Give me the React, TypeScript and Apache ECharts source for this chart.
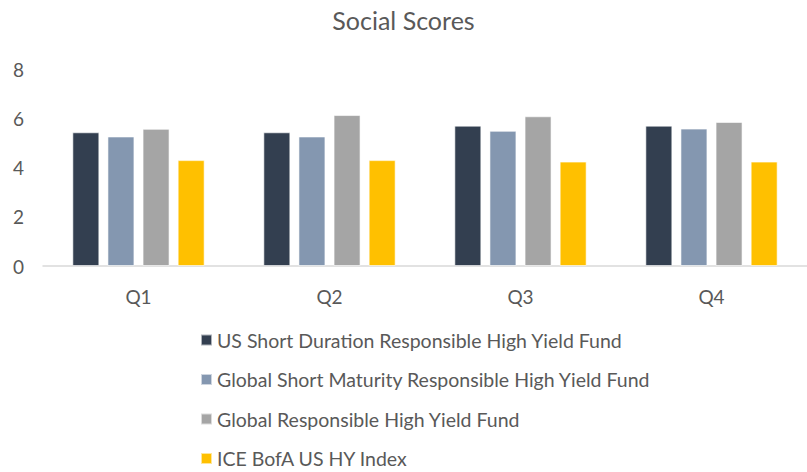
import React, { useEffect, useRef } from "react";
import * as echarts from "echarts";

const categories = ["Q1", "Q2", "Q3", "Q4"];
const seriesNames = [
  "US Short Duration Responsible High Yield Fund",
  "Global Short Maturity Responsible High Yield Fund",
  "Global Responsible High Yield Fund",
  "ICE BofA US HY Index",
];
const usShortDuration = [5.43, 5.43, 5.7, 5.7];
const globalShortMaturity = [5.26, 5.26, 5.49, 5.58];
const globalResponsible = [5.57, 6.13, 6.08, 5.85];
const iceBofa = [4.3, 4.3, 4.24, 4.24];
const yTicks = { min: 0, max: 8, interval: 2 };

const colors = ["#333F50", "#8497B0", "#A5A5A5", "#FFC000"];
const FONT = "Lato, 'Open Sans', sans-serif";

export default function App() {
  const ref = useRef<HTMLDivElement>(null);
  useEffect(() => {
    if (!ref.current) return;
    const chart = echarts.init(ref.current, undefined, { renderer: "svg" });
    const values = [usShortDuration, globalShortMaturity, globalResponsible, iceBofa];
    chart.setOption({
      animation: false,
      backgroundColor: "#FFFFFF",
      textStyle: { fontFamily: FONT },
      title: {
        text: "Social Scores",
        left: "center",
        top: 2,
        textStyle: { fontFamily: FONT, fontSize: 25, fontWeight: "normal", color: "#595959" },
      },
      legend: {
        orient: "vertical",
        left: 200,
        top: 330,
        padding: 0,
        height: 142,
        itemWidth: 11,
        itemHeight: 11,
        itemGap: 19.5,
        icon: "rect",
        data: seriesNames,
        textStyle: { fontFamily: FONT, fontSize: 19.5, color: "#595959", lineHeight: 20 },
      },
      grid: { left: 43, right: -12, top: 69, bottom: 206, containLabel: false },
      xAxis: {
        type: "category",
        data: categories,
        axisLine: { lineStyle: { color: "#D9D9D9", width: 1.5 } },
        axisTick: { show: false },
        axisLabel: { fontFamily: FONT, fontSize: 19, color: "#595959", margin: 21 },
      },
      yAxis: {
        type: "value",
        min: yTicks.min,
        max: yTicks.max,
        interval: yTicks.interval,
        axisLine: { show: false },
        axisTick: { show: false },
        splitLine: { show: false },
        axisLabel: { fontFamily: FONT, fontSize: 19, color: "#595959", margin: 19 },
      },
      series: seriesNames.map((name, i) => ({
        name,
        type: "bar",
        data: values[i],
        barWidth: 27,
        barGap: "30%",
        itemStyle: { color: colors[i], borderColor: "rgba(255,255,255,0.6)", borderWidth: 1 },
      })),
    });
    return () => chart.dispose();
  }, []);
  return (
    <div
      ref={ref}
      style={{ position: "fixed", left: 0, top: 0, width: 807, height: 472 }}
    />
  );
}
